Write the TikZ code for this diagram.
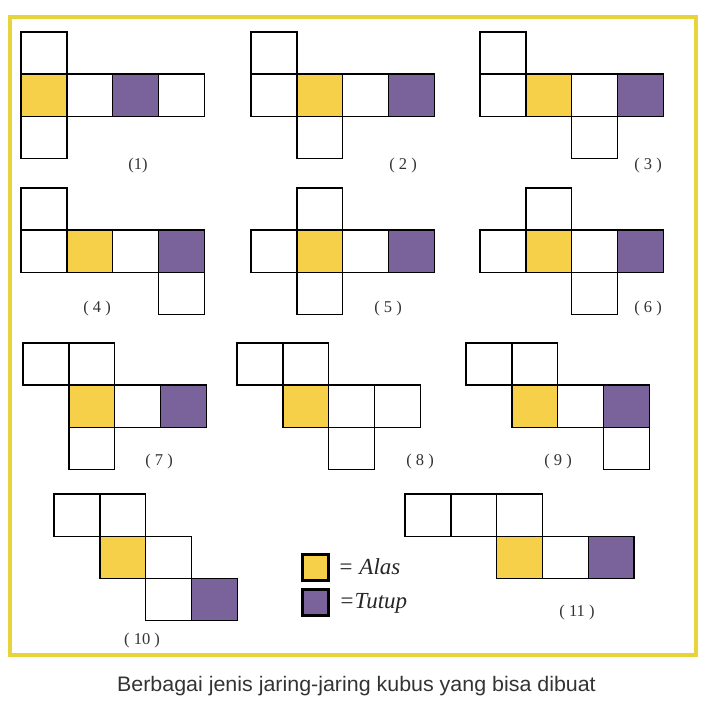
\documentclass[tikz,border=0pt]{standalone}
\usepackage{fontspec}
\setmainfont{Liberation Serif}
\newfontfamily\capfont{Liberation Sans}
\definecolor{alas}{HTML}{F6D048}
\definecolor{tutup}{HTML}{7A629A}
\definecolor{frameyel}{HTML}{E6D43A}
\definecolor{lbl}{HTML}{333333}
\tikzset{
  cellw/.style={draw=black, line width=1.4pt, fill=white},
  celly/.style={draw=black, line width=1.4pt, fill=alas},
  cellp/.style={draw=black, line width=1.4pt, fill=tutup},
  netlabel/.style={text=lbl, font=\fontsize{16.5}{18}\selectfont, inner sep=0pt},
  legbox/.style={draw=black, line width=3pt, minimum width=26pt, minimum height=26pt, inner sep=0pt},
  legtext/.style={font=\fontsize{23}{26}\selectfont\itshape, anchor=west, inner sep=0pt, text=black!85}
}
\newcommand{\netdraw}[3]{% x0, y0, list of col/row/style
  \begin{scope}[shift={(#1,#2)}]
    \foreach \c/\r/\s in {#3} {
      \draw[\s] (\c*45.8, \r*42.2) rectangle ++(45.8, 42.2);
    }
  \end{scope}}
\begin{document}
\begin{tikzpicture}[x=1pt, y=-1pt]
\useasboundingbox (0,0) rectangle (713,703);
\fill[white] (0,0) rectangle (713,703);
% frame
\draw[frameyel, line width=4.5pt] (10,17) rectangle (696,655);
% nets
\netdraw{21}{32}{0/0/cellw, 0/1/celly, 1/1/cellw, 2/1/cellp, 3/1/cellw, 0/2/cellw}
\netdraw{251}{32}{0/0/cellw, 0/1/cellw, 1/1/celly, 2/1/cellw, 3/1/cellp, 1/2/cellw}
\netdraw{480}{32}{0/0/cellw, 0/1/cellw, 1/1/celly, 2/1/cellw, 3/1/cellp, 2/2/cellw}
\netdraw{21}{188}{0/0/cellw, 0/1/cellw, 1/1/celly, 2/1/cellw, 3/1/cellp, 3/2/cellw}
\netdraw{251}{188}{1/0/cellw, 0/1/cellw, 1/1/celly, 2/1/cellw, 3/1/cellp, 1/2/cellw}
\netdraw{480}{188}{1/0/cellw, 0/1/cellw, 1/1/celly, 2/1/cellw, 3/1/cellp, 2/2/cellw}
\netdraw{23}{343}{0/0/cellw, 1/0/cellw, 1/1/celly, 2/1/cellw, 3/1/cellp, 1/2/cellw}
\netdraw{237}{343}{0/0/cellw, 1/0/cellw, 1/1/celly, 2/1/cellw, 3/1/cellw, 2/2/cellw}
\netdraw{466}{343}{0/0/cellw, 1/0/cellw, 1/1/celly, 2/1/cellw, 3/1/cellp, 3/2/cellw}
\netdraw{54}{494}{0/0/cellw, 1/0/cellw, 1/1/celly, 2/1/cellw, 2/2/cellw, 3/2/cellp}
\netdraw{405}{494}{0/0/cellw, 1/0/cellw, 2/0/cellw, 2/1/celly, 3/1/cellw, 4/1/cellp}
% labels
\node[netlabel] (l1) at (138,166) {(1)};
\node[netlabel] (l2) at (403,166) {( 2 )};
\node[netlabel] (l3) at (648,166) {( 3 )};
\node[netlabel] (l4) at (97,309) {( 4 )};
\node[netlabel] (l5) at (388,309) {( 5 )};
\node[netlabel] (l6) at (648,309) {( 6 )};
\node[netlabel] (l7) at (159,462) {( 7 )};
\node[netlabel] (l8) at (420,462) {( 8 )};
\node[netlabel] (l9) at (558,462) {( 9 )};
\node[netlabel] (l10) at (142,641) {( 10 )};
\node[netlabel] (l11) at (577,613) {( 11 )};
% legend
\node[legbox, fill=alas] (ka) at (315,567.5) {};
\node[legbox, fill=tutup] (kt) at (315,602.5) {};
\node[legtext] (ta) at (338,567) {= Alas};
\node[legtext] (tt) at (339,603) {=Tutup};
% caption
\node[text=lbl, inner sep=0pt] (cap) at (356.5,686) {\scalebox{1.02}[1]{\capfont\fontsize{21}{24}\selectfont Berbagai jenis jaring-jaring kubus yang bisa dibuat}};
\end{tikzpicture}
\end{document}
